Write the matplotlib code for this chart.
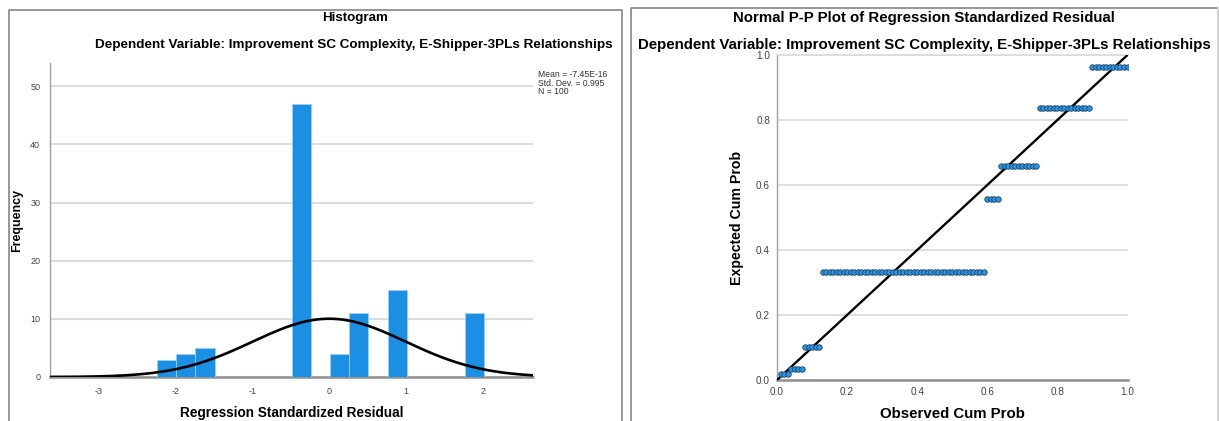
import numpy as np
import matplotlib.pyplot as plt
from matplotlib.lines import Line2D

plt.rcParams['font.family'] = ['Liberation Sans', 'DejaVu Sans']
plt.rcParams['axes.unicode_minus'] = False

# Histograma de residuos estandarizados
bin_start = -2.24
bin_width = 0.25
bin_counts = [3, 4, 5, 0, 0, 0, 0, 47, 0, 4, 11, 0, 15, 0, 0, 0, 11]
res_mean = -7.45e-16
res_sd = 0.995
n_obs = 100

# Grafico P-P: tamaño de cada grupo y su probabilidad esperada
pp_group_sizes = [3, 4, 5, 47, 4, 11, 15, 11]
pp_expected = [0.020, 0.033, 0.103, 0.333, 0.558, 0.658, 0.836, 0.962]

subtitle = "Dependent Variable: Improvement SC Complexity, E-Shipper-3PLs Relationships"

W, H = 1219, 421
fig = plt.figure(figsize=(W / 100, H / 100), dpi=100)

def fx(px):
    return px / W

def fy(py):
    return 1 - py / H

bar_color = '#1a8fe3'
grid_color = '#dcdcdc'
axis_color = '#a0a0a0'
tick_color = '#444444'

# ---------------- Histograma ----------------
ax1 = fig.add_axes([fx(50), fy(377), fx(533) - fx(50), fy(63) - fy(377)])
edges = bin_start + bin_width * np.arange(len(bin_counts))
ax1.bar(edges, bin_counts, width=bin_width, align='edge', color=bar_color,
        edgecolor='#9fd0f5', linewidth=0.6, zorder=3)
xs = np.linspace(-3.7, 2.7, 400)
curva = n_obs * bin_width / (res_sd * np.sqrt(2 * np.pi)) * np.exp(-0.5 * ((xs - res_mean) / res_sd) ** 2)
ax1.plot(xs, curva, color='black', lw=1.9, zorder=4)
ax1.set_xlim(-3.63, 2.65)
ax1.set_ylim(0, 54)
ax1.set_xticks([-3, -2, -1, 0, 1, 2])
ax1.set_yticks([0, 10, 20, 30, 40, 50])
ax1.yaxis.grid(True, color=grid_color, lw=1.5, zorder=0)
ax1.set_axisbelow(True)
for s in ['top', 'right']:
    ax1.spines[s].set_visible(False)
ax1.spines['left'].set_color(axis_color)
ax1.spines['left'].set_linewidth(1.0)
ax1.spines['bottom'].set_color('#909090')
ax1.spines['bottom'].set_linewidth(1.8)
ax1.tick_params(length=0, labelsize=6.5, labelcolor=tick_color, pad=7)
ax1.set_xlabel("Regression Standardized Residual", fontsize=9.8, fontweight='bold', va='center')
ax1.set_ylabel("Frequency", fontsize=9, fontweight='bold', va='center')
ax1.xaxis.set_label_coords(0.5, (377 - 413) / 314)
ax1.yaxis.set_label_coords((17 - 50) / 483, 0.5)

fig.text(fx(538), fy(70), "Mean = -7.45E-16\nStd. Dev. = 0.995\nN = 100",
         fontsize=6.2, color='#333333', va='top', ha='left', linespacing=0.95)
fig.text(fx(355), fy(18), "Histogram", fontsize=9.6, fontweight='bold', ha='center', va='center')
fig.text(fx(354), fy(45), subtitle, fontsize=9.7, fontweight='bold', ha='center', va='center')

# ---------------- Grafico P-P ----------------
ax2 = fig.add_axes([fx(777), fy(380), fx(1127.5) - fx(777), fy(55) - fy(380)])
obs = np.arange(1, n_obs + 1) / n_obs
esp = np.repeat(pp_expected, pp_group_sizes)
ax2.plot([0, 1], [0, 1], color='black', lw=1.7, zorder=3)
ax2.plot(obs, esp, 'o', ms=4.0, mfc='#2a93e0', mec='#1c3550', mew=0.5, zorder=4)
ax2.set_xlim(0, 1)
ax2.set_ylim(0, 1)
ax2.set_xticks(np.arange(0, 1.01, 0.2))
ax2.set_yticks(np.arange(0, 1.01, 0.2))
ax2.set_xticklabels(["0.0", "0.2", "0.4", "0.6", "0.8", "1.0"])
ax2.set_yticklabels(["0.0", "0.2", "0.4", "0.6", "0.8", "1.0"])
ax2.yaxis.grid(True, color=grid_color, lw=1.3, zorder=0)
ax2.set_axisbelow(True)
ax2.spines['right'].set_visible(False)
ax2.spines['top'].set_color(grid_color)
ax2.spines['top'].set_linewidth(1.3)
ax2.spines['left'].set_color(axis_color)
ax2.spines['left'].set_linewidth(1.0)
ax2.spines['bottom'].set_color('#909090')
ax2.spines['bottom'].set_linewidth(1.8)
ax2.tick_params(length=0, labelsize=7.2, labelcolor=tick_color, pad=5)
ax2.set_xlabel("Observed Cum Prob", fontsize=10.8, fontweight='bold', va='center')
ax2.set_ylabel("Expected Cum Prob", fontsize=10.2, fontweight='bold', va='center')
ax2.xaxis.set_label_coords(0.5, (380 - 414) / 325)
ax2.yaxis.set_label_coords((737 - 777) / 350.5, 0.5)

fig.text(fx(924), fy(18), "Normal P-P Plot of Regression Standardized Residual",
         fontsize=10.8, fontweight='bold', ha='center', va='center')
fig.text(fx(924), fy(45), subtitle, fontsize=10.8, fontweight='bold', ha='center', va='center')

# Marcos de los dos paneles
borde = '#7a7a7a'
for xs_, ys_ in [([9, 9, 622, 622], [H + 5, 9.5, 9.5, H + 5]),
                 ([631, 631, 1218, 1218], [H + 5, 8, 8, H + 5])]:
    fig.add_artist(Line2D([fx(v) for v in xs_], [fy(v) for v in ys_],
                          color=borde, lw=1.1))
fig.add_artist(Line2D([fx(1218), fx(1218)], [fy(8), fy(H + 5)], color='#e6e6e6', lw=1.1))

fig.savefig("out.png", dpi=100)
